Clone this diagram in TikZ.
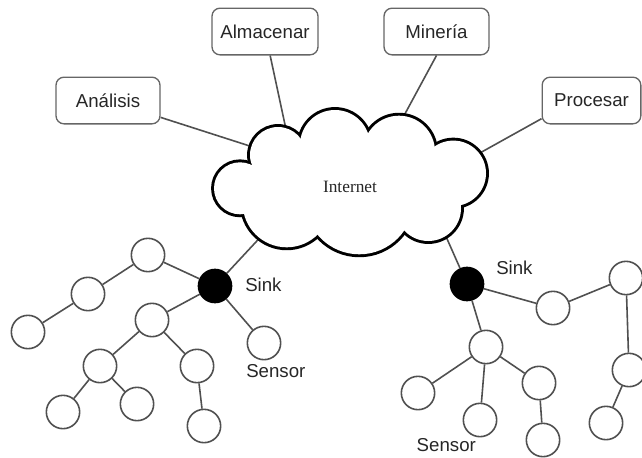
\documentclass[tikz,border=0pt]{standalone}
\usepackage{fontspec}
\setmainfont{Liberation Sans}
\newfontfamily\cloudfont{Liberation Serif}
\definecolor{boxgray}{HTML}{666666}
\definecolor{txtgray}{HTML}{262626}
\definecolor{linkgray}{HTML}{505050}
\begin{document}
\begin{tikzpicture}[x=0.75pt,y=-0.75pt,
  box/.style={draw=boxgray, line width=1pt, rounded corners=6pt,
    minimum height=35pt, inner sep=0pt, text=txtgray,
    font=\fontsize{14}{16}\selectfont},
  sensor/.style={circle, draw=linkgray, line width=1.2pt, fill=white,
    minimum size=25pt, inner sep=0pt},
  sinknode/.style={circle, draw=black, fill=black, line width=1pt,
    minimum size=25pt, inner sep=0pt},
  link/.style={draw=linkgray, line width=1.2pt},
  lbl/.style={text=txtgray, font=\fontsize{14}{16}\selectfont, inner sep=0pt},
  lobe/.style={line width=4.4pt, draw=black}]
\useasboundingbox (0,0) rectangle (642,457);

% --- service boxes ---
\node[box, minimum width=78pt]   (ana) at (108,100.5) {Análisis};
\node[box, minimum width=79.5pt] (alm) at (265,31.5)  {Almacenar};
\node[box, minimum width=78.7pt] (min) at (436.5,31.5) {Minería};
\node[box, minimum width=74pt]   (pro) at (591.5,100.5) {Procesar};

% --- left sensor tree ---
\node[sinknode] (sl) at (215,286) {};
\node[sensor] (a1) at (148,255) {};
\node[sensor] (a2) at (88,294) {};
\node[sensor] (a3) at (28,332) {};
\node[sensor] (a4) at (152,320) {};
\node[sensor] (a5) at (100,366) {};
\node[sensor] (a6) at (197,366) {};
\node[sensor] (a7) at (63,412) {};
\node[sensor] (a8) at (137,404) {};
\node[sensor] (a9) at (204,426) {};
\node[sensor] (a10) at (264,343) {};
\node[lbl, anchor=west] (slt) at (245,285) {Sink};
\node[lbl, anchor=west] (sst) at (246,371) {Sensor};

% --- right sensor tree ---
\node[sinknode] (sr) at (467,284) {};
\node[sensor] (b1) at (553,308) {};
\node[sensor] (b2) at (626,278) {};
\node[sensor] (b3) at (629,370) {};
\node[sensor] (b4) at (606,423) {};
\node[sensor] (b5) at (486,347) {};
\node[sensor] (b6) at (418,393) {};
\node[sensor] (b7) at (480,420) {};
\node[sensor] (b8) at (539,383) {};
\node[sensor] (b9) at (543,440) {};
\node[lbl, anchor=west] (srt) at (496,268) {Sink};
\node[lbl] (srs) at (446.3,445) {Sensor};

% --- attachment points on the cloud rim ---
\coordinate (c1) at (256,148);
\coordinate (c2) at (287,134);
\coordinate (c3) at (400,123);
\coordinate (c4) at (470,158.5);
\coordinate (cl) at (260,237.6);
\coordinate (cr) at (444,232);

% --- connectors ---
\path[link] (ana) -- (c1);
\path[link] (alm) -- (c2);
\path[link] (min.south) -- (c3);
\path[link] (pro.200) -- (c4);
\path[link] (sl) -- (cl);
\path[link] (sr) -- (cr);

\path[link] (sl) -- (a1);
\path[link] (a1) -- (a2);
\path[link] (a2) -- (a3);
\path[link] (sl) -- (a4);
\path[link] (a4) -- (a5);
\path[link] (a4) -- (a6);
\path[link] (a5) -- (a7);
\path[link] (a5) -- (a8);
\path[link] (a6) -- (a9);
\path[link] (sl) -- (a10);

\path[link] (sr) -- (b1);
\path[link] (b1) -- (b2);
\path[link] (b2) -- (b3);
\path[link] (b3) -- (b4);
\path[link] (sr) -- (b5);
\path[link] (b5) -- (b6);
\path[link] (b5) -- (b7);
\path[link] (b5) -- (b8);
\path[link] (b8) -- (b9);

% --- cloud: outline of a union of round lobes ---
\foreach \c/\r in {{240,188.3}/26,{278,155}/28,{335,145}/35,{399,151.7}/36,
  {453.3,173.3}/32.7,{428.3,208.3}/32.7,{359.3,200}/54.3,{286.7,203.3}/44}
  \draw[lobe] (\c) circle[radius=\r];
\foreach \c/\r in {{240,188.3}/26,{278,155}/28,{335,145}/35,{399,151.7}/36,
  {453.3,173.3}/32.7,{428.3,208.3}/32.7,{359.3,200}/54.3,{286.7,203.3}/44}
  \fill[white] (\c) circle[radius=\r];
\fill[white] (350,185) ellipse[x radius=90, y radius=45];
\node[text=txtgray, font=\cloudfont\fontsize{13}{15}\selectfont] (net) at (350,187) {Internet};
\end{tikzpicture}
\end{document}
